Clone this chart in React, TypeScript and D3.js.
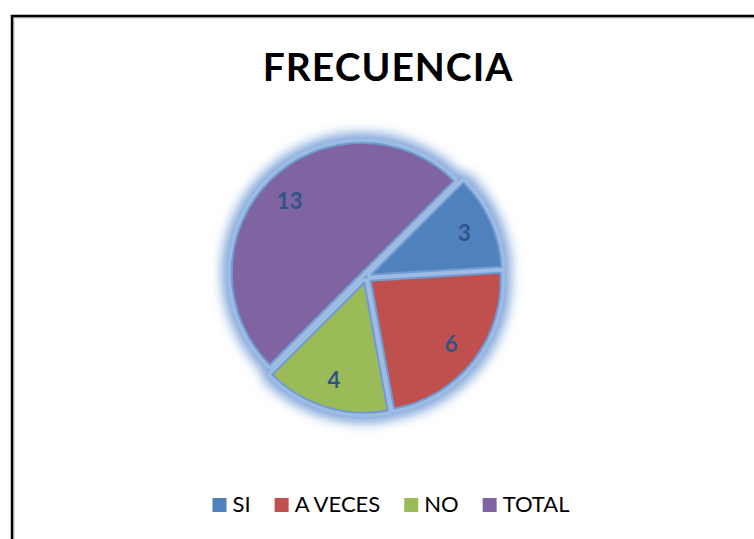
import React, { useRef, useEffect } from 'react';
import * as d3 from 'd3';

const categories = ['SI', 'A VECES', 'NO', 'TOTAL'];
const values = [3, 6, 4, 13];
const colors = ['#4F81BD', '#C0504D', '#9BBB59', '#8064A2'];
const title = 'FRECUENCIA';

const W = 754;
const H = 539;

const App = () => {
  const svgRef = useRef<SVGSVGElement>(null);

  useEffect(() => {
    const svg = d3.select(svgRef.current).html('');

    // blur for the soft glow round the pie
    const defs = svg.append('defs');
    defs.append('filter')
      .attr('id', 'glow')
      .attr('x', '-30%').attr('y', '-30%')
      .attr('width', '160%').attr('height', '160%')
      .append('feGaussianBlur')
      .attr('stdDeviation', 6);

    svg.append('rect').attr('width', W).attr('height', H).attr('fill', '#fff');

    // frame (only left and top edges fall inside the picture)
    svg.append('path')
      .attr('d', `M13.5,${H} V17.5 H${W}`)
      .attr('fill', 'none')
      .attr('stroke', '#c8c8c8')
      .attr('stroke-width', 2);
    svg.append('path')
      .attr('d', `M12,${H} V16 H${W}`)
      .attr('fill', 'none')
      .attr('stroke', '#000')
      .attr('stroke-width', 2.5);

    // title
    svg.append('text')
      .attr('x', 388)
      .attr('y', 81)
      .attr('text-anchor', 'middle')
      .style('font-family', 'Lato, "Open Sans", sans-serif')
      .style('font-weight', 700)
      .style('font-size', '39px')
      .style('letter-spacing', '1px')
      .attr('fill', '#000')
      .text(title);

    // --- Pie ---
    const cx = 366;
    const cy = 277;
    const r = 130;
    const explode = 6;
    const start = Math.PI / 4;

    const pie = d3.pie<number>()
      .sort(null)
      .startAngle(start)
      .endAngle(start + 2 * Math.PI);
    const arcs = pie(values);
    const arc = d3.arc<d3.PieArcDatum<number>>().innerRadius(0).outerRadius(r);
    const labelArc = d3.arc<d3.PieArcDatum<number>>().innerRadius(204).outerRadius(0);

    const shift = (d: d3.PieArcDatum<number>) => {
      const mid = (d.startAngle + d.endAngle) / 2;
      return [Math.sin(mid) * explode, -Math.cos(mid) * explode];
    };

    const g = svg.append('g').attr('transform', `translate(${cx},${cy})`);

    // glow
    g.append('g')
      .attr('filter', 'url(#glow)')
      .selectAll('path')
      .data(arcs)
      .join('path')
      .attr('transform', d => `translate(${shift(d)})`)
      .attr('d', arc)
      .attr('fill', '#7ca3d8')
      .attr('stroke', '#7ca3d8')
      .attr('stroke-width', 20)
      .attr('stroke-linejoin', 'round');

    // light blue rim, fills the gaps between slices
    g.append('g')
      .selectAll('path')
      .data(arcs)
      .join('path')
      .attr('transform', d => `translate(${shift(d)})`)
      .attr('d', arc)
      .attr('fill', '#9dbbe3')
      .attr('stroke', '#9dbbe3')
      .attr('stroke-width', 9)
      .attr('stroke-linejoin', 'round');

    // slices
    g.append('g')
      .selectAll('path')
      .data(arcs)
      .join('path')
      .attr('transform', d => `translate(${shift(d)})`)
      .attr('d', arc)
      .attr('fill', (d, i) => colors[i])
      .attr('stroke', '#6f9bd2')
      .attr('stroke-width', 2)
      .attr('stroke-linejoin', 'round');

    // value labels
    g.append('g')
      .selectAll('text')
      .data(arcs)
      .join('text')
      .attr('transform', d => {
        const [sx, sy] = shift(d);
        const [lx, ly] = labelArc.centroid(d);
        return `translate(${lx + sx},${ly + sy})`;
      })
      .attr('text-anchor', 'middle')
      .attr('dy', '0.36em')
      .style('font-family', 'Lato, "Open Sans", sans-serif')
      .style('font-weight', 700)
      .style('font-size', '22px')
      .attr('fill', '#2f5289')
      .text(d => d.data);

    // --- Legend ---
    const legend = svg.append('g');
    const box = 14;
    const pad = 6;
    const gap = 24;
    const items = legend.selectAll('g')
      .data(categories)
      .join('g');
    items.append('rect')
      .attr('width', box)
      .attr('height', box)
      .attr('y', -box)
      .attr('fill', (d, i) => colors[i]);
    items.append('text')
      .attr('x', box + pad)
      .style('font-family', 'Lato, "Open Sans", sans-serif')
      .style('font-size', '22px')
      .attr('fill', '#000')
      .text(d => d);

    let x = 0;
    items.each(function () {
      const t = d3.select(this).select('text').node() as SVGTextElement;
      d3.select(this).attr('transform', `translate(${x},0)`);
      x += box + pad + t.getComputedTextLength() + gap;
    });
    const total = x - gap;
    legend.attr('transform', `translate(${391 - total / 2},512)`);
  }, []);

  return (
    <svg
      ref={svgRef}
      width={W}
      height={H}
      style={{ position: 'absolute', left: 0, top: 0 }}
    />
  );
};

export default App;
